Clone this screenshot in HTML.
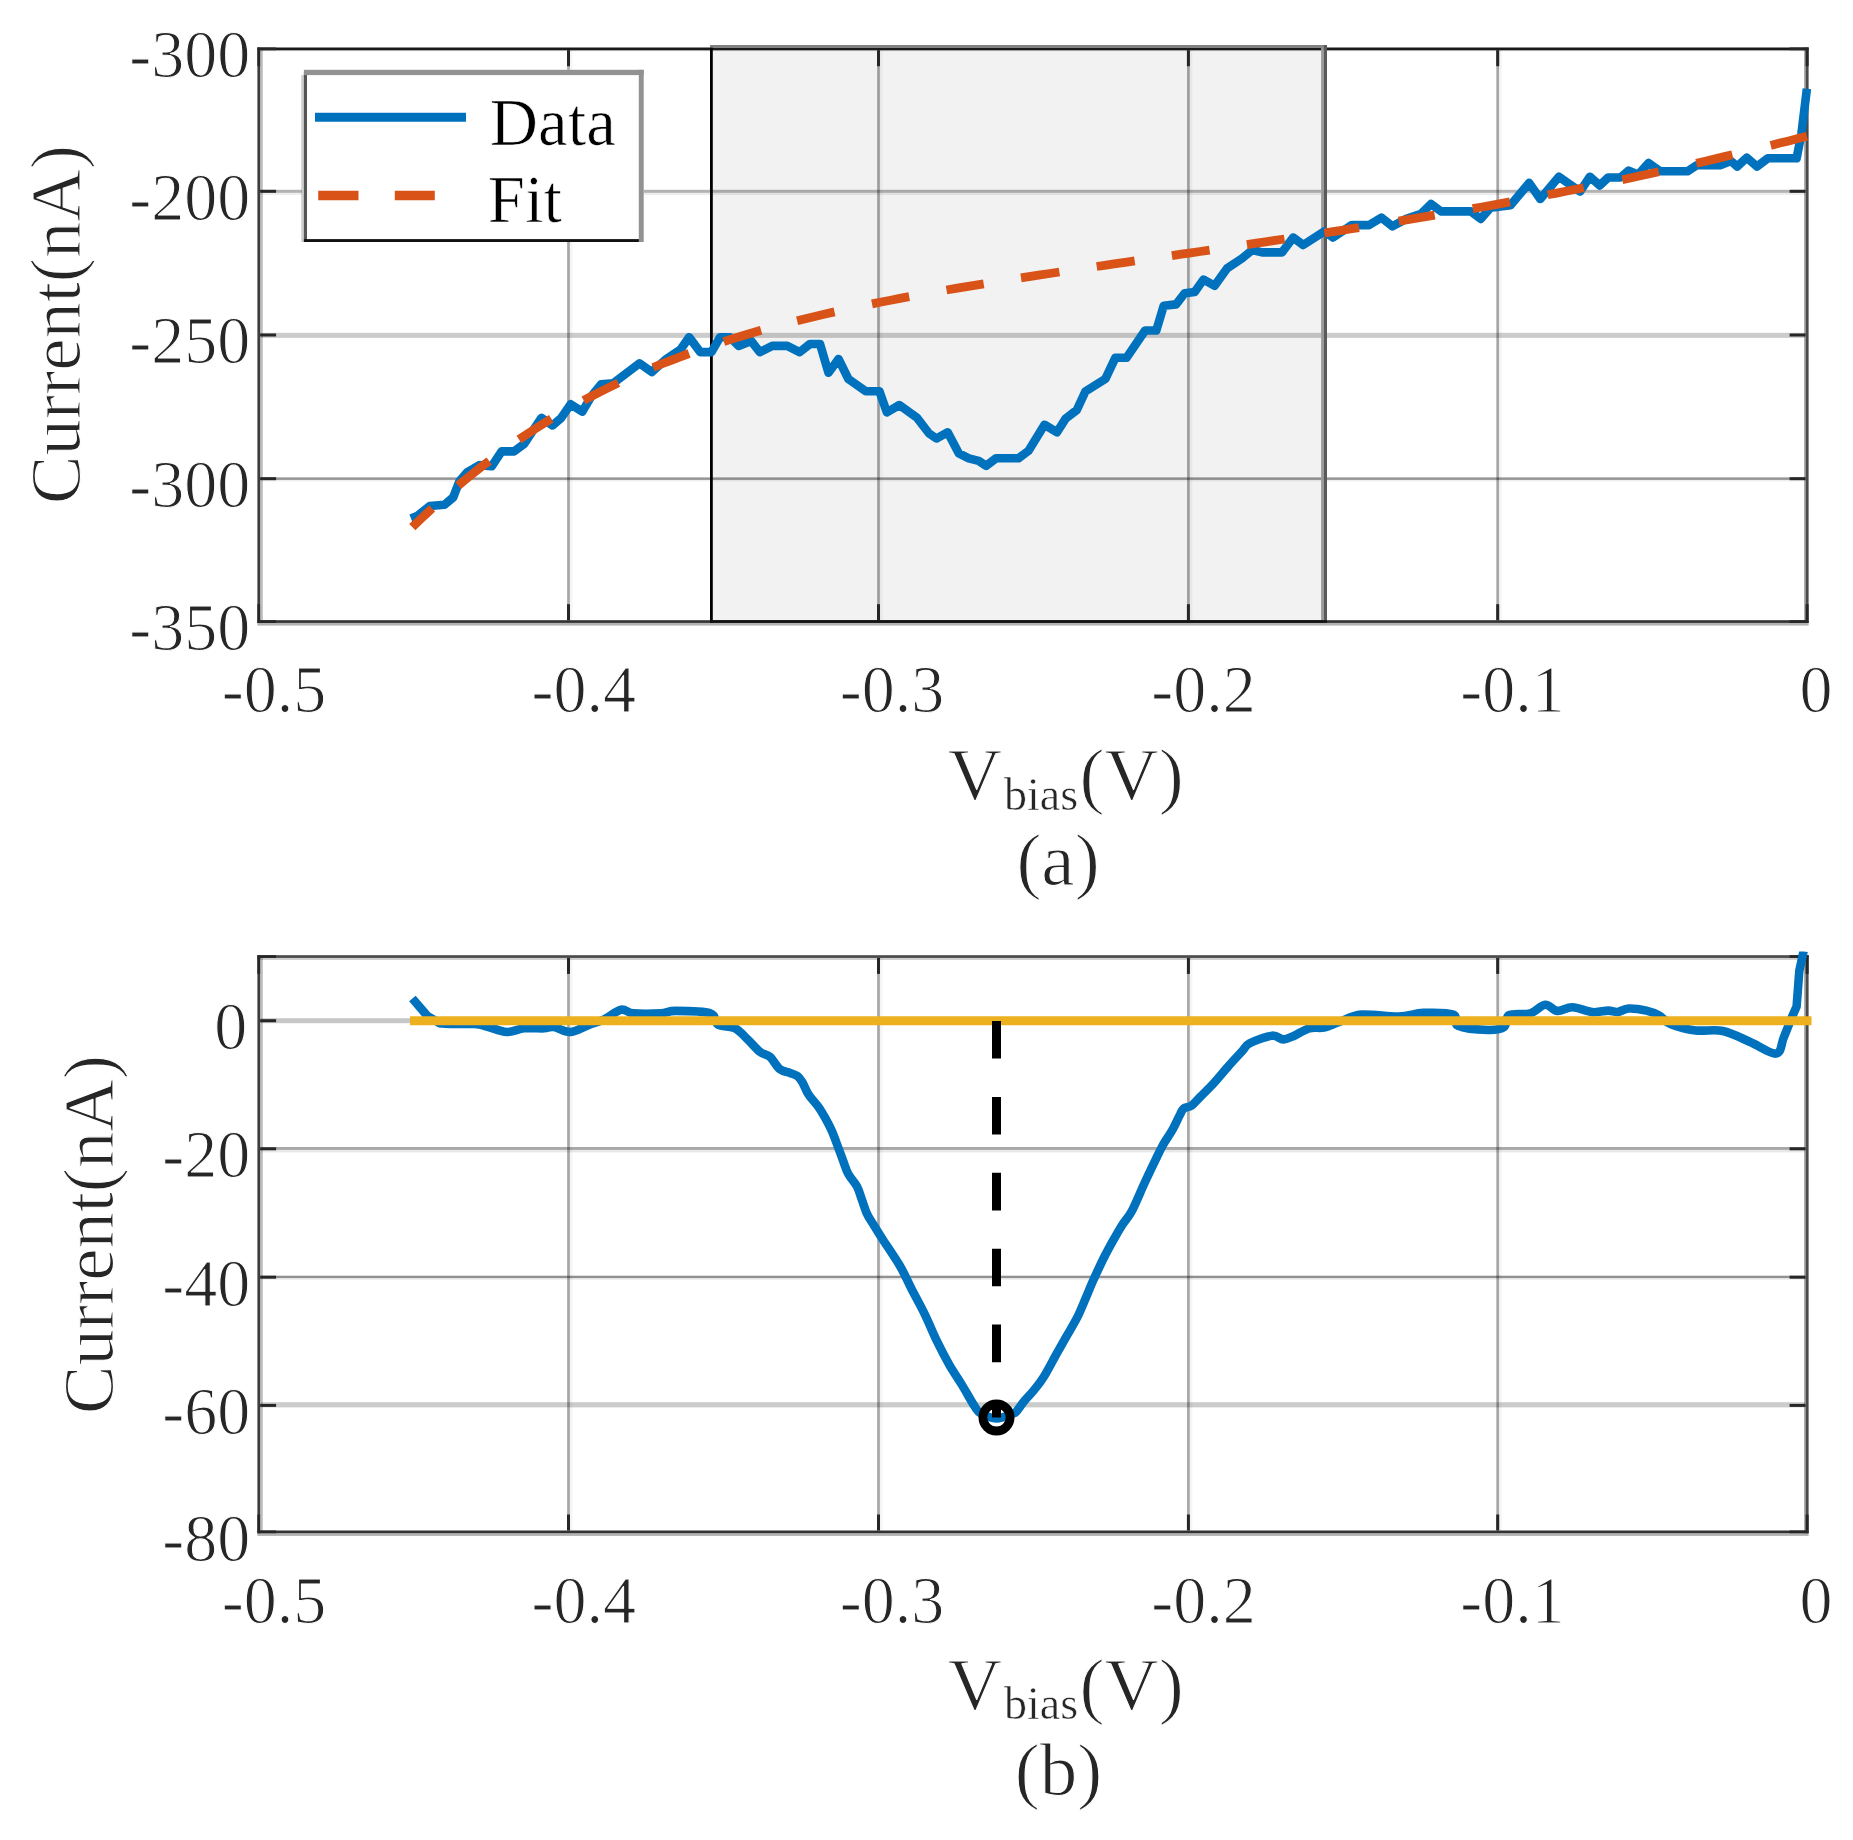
<!DOCTYPE html>
<html lang="en"><head><meta charset="utf-8"><title>Figure</title>
<style>html,body{margin:0;padding:0;background:#fff;overflow:hidden;}svg{display:block;filter:blur(0.6px);}</style>
</head><body>
<svg width="1853" height="1840" viewBox="0 0 1853 1840" font-family="'Liberation Serif', 'Times New Roman', serif" shape-rendering="geometricPrecision">
<rect width="1853" height="1840" fill="#fff"/>
<rect x="712.80" y="47.60" width="611.20" height="573.40" fill="#f2f2f2"/>
<rect x="567.15" y="50.00" width="2.70" height="570.50" fill="#000" fill-opacity="0.35"/>
<rect x="569.85" y="50.00" width="2.65" height="570.50" fill="#000" fill-opacity="0.04"/>
<rect x="877.15" y="50.00" width="2.70" height="570.50" fill="#000" fill-opacity="0.35"/>
<rect x="879.85" y="50.00" width="2.65" height="570.50" fill="#000" fill-opacity="0.04"/>
<rect x="1187.05" y="50.00" width="2.70" height="570.50" fill="#000" fill-opacity="0.35"/>
<rect x="1189.75" y="50.00" width="2.65" height="570.50" fill="#000" fill-opacity="0.04"/>
<rect x="1496.35" y="50.00" width="2.70" height="570.50" fill="#000" fill-opacity="0.35"/>
<rect x="1499.05" y="50.00" width="2.65" height="570.50" fill="#000" fill-opacity="0.04"/>
<rect x="261.00" y="189.80" width="1544.00" height="3.00" fill="#000" fill-opacity="0.3"/>
<rect x="261.00" y="192.80" width="1544.00" height="2.20" fill="#000" fill-opacity="0.07"/>
<rect x="261.00" y="332.80" width="1544.00" height="5.10" fill="#000" fill-opacity="0.2"/>
<rect x="261.00" y="477.40" width="1544.00" height="2.50" fill="#000" fill-opacity="0.42"/>
<rect x="261.00" y="480.00" width="1544.00" height="1.50" fill="#000" fill-opacity="0.06"/>
<rect x="257.40" y="47.50" width="1551.20" height="2.70" fill="#1a1a1a"/>
<rect x="257.40" y="50.20" width="1551.20" height="2.00" fill="#000" fill-opacity="0.0"/>
<rect x="257.40" y="620.20" width="1551.20" height="2.70" fill="#333"/>
<rect x="257.40" y="622.90" width="1551.20" height="2.70" fill="#000" fill-opacity="0.3"/>
<rect x="257.40" y="47.50" width="2.70" height="575.40" fill="#3d3d3d"/>
<rect x="260.10" y="50.20" width="2.70" height="570.00" fill="#000" fill-opacity="0.26"/>
<rect x="1804.10" y="47.50" width="1.50" height="575.40" fill="#000" fill-opacity="0.35"/>
<rect x="1805.60" y="47.50" width="3.00" height="575.40" fill="#4a4a4a"/>
<rect x="260.10" y="50.10" width="1545.50" height="1.00" fill="#000" fill-opacity="0.22"/>
<rect x="567.00" y="50.20" width="3.00" height="16.00" fill="#262626"/>
<rect x="567.00" y="604.20" width="3.00" height="16.00" fill="#262626"/>
<rect x="877.00" y="50.20" width="3.00" height="16.00" fill="#262626"/>
<rect x="877.00" y="604.20" width="3.00" height="16.00" fill="#262626"/>
<rect x="1186.90" y="50.20" width="3.00" height="16.00" fill="#262626"/>
<rect x="1186.90" y="604.20" width="3.00" height="16.00" fill="#262626"/>
<rect x="1496.20" y="50.20" width="3.00" height="16.00" fill="#262626"/>
<rect x="1496.20" y="604.20" width="3.00" height="16.00" fill="#262626"/>
<rect x="260.10" y="189.80" width="16.00" height="3.00" fill="#262626"/>
<rect x="1789.60" y="189.80" width="16.00" height="3.00" fill="#262626"/>
<rect x="260.10" y="333.50" width="16.00" height="3.00" fill="#262626"/>
<rect x="1789.60" y="333.50" width="16.00" height="3.00" fill="#262626"/>
<rect x="260.10" y="477.20" width="16.00" height="3.00" fill="#262626"/>
<rect x="1789.60" y="477.20" width="16.00" height="3.00" fill="#262626"/>
<rect x="257.40" y="50.20" width="2.70" height="16.00" fill="#262626"/>
<rect x="1805.60" y="50.20" width="3.00" height="16.00" fill="#262626"/>
<rect x="257.40" y="604.20" width="2.70" height="16.00" fill="#262626"/>
<rect x="1805.60" y="604.20" width="3.00" height="16.00" fill="#262626"/>
<rect x="257.40" y="620.20" width="18.70" height="2.70" fill="#262626"/>
<rect x="257.40" y="47.50" width="18.70" height="2.70" fill="#262626"/>
<rect x="1789.60" y="620.20" width="19.00" height="2.70" fill="#262626"/>
<rect x="1789.60" y="47.50" width="19.00" height="2.70" fill="#262626"/>
<rect x="710.00" y="45.00" width="617.00" height="2.60" fill="#808080"/>
<rect x="710.00" y="47.60" width="2.80" height="575.20" fill="#000"/>
<rect x="1321.10" y="47.60" width="2.80" height="572.60" fill="#999"/>
<rect x="1323.90" y="45.00" width="3.10" height="577.80" fill="#5a5a5a"/>
<rect x="710.00" y="620.20" width="617.00" height="2.60" fill="#111"/>
<polyline points="411.0,518.5 417.2,516.0 429.7,506.0 444.5,504.8 453.2,497.4 459.4,481.2 466.9,472.5 479.3,465.1 491.7,466.3 501.6,451.4 514.1,451.4 524.0,444.0 541.4,417.9 552.5,425.4 561.2,417.9 570.7,404.3 582.3,411.7 591.0,396.8 601.0,384.4 613.4,383.2 639.4,363.3 651.8,372.0 665.5,359.6 680.4,349.7 689.1,337.2 700.3,352.1 711.4,352.1 720.1,337.2 730.0,337.2 738.7,345.9 751.2,341.0 759.8,352.1 772.3,345.9 787.2,345.9 799.6,352.1 810.0,344.0 820.0,344.0 828.5,372.7 838.5,359.0 848.4,379.0 865.8,391.3 879.4,391.3 886.9,412.4 899.3,405.0 916.7,417.4 929.1,433.5 936.5,438.5 947.7,432.3 958.9,453.4 968.8,458.3 978.7,460.8 986.2,465.8 996.1,458.3 1018.5,458.3 1028.4,450.9 1044.5,424.8 1057.0,432.3 1065.6,418.6 1076.8,410.0 1085.5,391.3 1105.4,378.9 1115.3,357.8 1126.5,357.8 1145.1,330.5 1156.3,330.5 1163.7,305.7 1176.1,304.4 1184.8,293.2 1194.7,292.0 1203.4,279.6 1214.6,285.8 1227.0,268.4 1241.9,258.5 1252.3,250.0 1262.2,252.4 1282.0,252.4 1293.2,237.5 1303.2,245.0 1324.3,231.3 1333.0,237.5 1351.6,225.1 1369.0,225.1 1381.4,217.6 1392.5,226.3 1406.2,218.9 1421.1,213.9 1431.0,204.0 1441.0,211.4 1470.7,211.4 1480.7,218.9 1490.6,207.7 1510.5,205.2 1529.1,182.9 1540.3,199.0 1558.9,176.7 1580.0,191.6 1589.9,176.7 1599.8,185.4 1608.2,177.5 1620.5,177.5 1628.7,170.6 1638.2,174.7 1648.5,163.1 1660.1,171.3 1687.4,171.3 1696.9,165.2 1720.2,165.2 1731.1,161.1 1737.2,166.5 1746.8,157.7 1757.0,166.5 1767.9,158.3 1796.6,158.3 1801.4,133.8 1806.9,88.7" fill="none" stroke="#0072BD" stroke-width="8.6" stroke-linejoin="round" stroke-linecap="butt"/>
<path d="M412.3,527.1 L417.2,522.3 L422.2,517.6 L427.2,513.0 L432.1,508.4 M458.2,485.5 L465.9,479.1 L473.7,472.9 L481.4,466.8 L489.2,460.9 M519.0,439.5 L527.1,434.1 L535.1,428.9 L543.2,423.8 L551.3,418.8 M583.6,400.4 L592.3,395.8 L601.0,391.4 L609.6,387.1 L618.3,382.9 M653.1,367.5 L662.1,363.8 L671.1,360.3 L680.1,356.8 L689.1,353.5 M723.8,341.6 L733.1,338.6 L742.5,335.8 L751.8,333.0 L761.1,330.3 M797.1,320.7 L806.5,318.4 L815.8,316.2 L825.1,314.0 L834.5,311.9 M872.0,303.9 L881.3,302.0 L890.6,300.2 L899.9,298.4 L909.2,296.7 M946.5,290.0 L955.8,288.4 L965.1,286.8 L974.4,285.3 L983.7,283.8 M1021.0,277.9 L1030.6,276.4 L1040.2,274.9 L1049.8,273.5 L1059.4,272.0 M1096.7,266.5 L1106.2,265.1 L1115.7,263.7 L1125.2,262.3 L1134.7,260.9 M1171.9,255.6 L1181.3,254.2 L1190.8,252.8 L1200.2,251.5 L1209.6,250.1 M1246.9,244.6 L1256.3,243.2 L1265.7,241.8 L1275.1,240.4 L1284.5,239.0 M1324.3,233.0 L1333.0,231.6 L1341.7,230.3 L1350.3,228.9 L1359.0,227.6 M1398.7,221.2 L1407.7,219.7 L1416.7,218.2 L1425.7,216.7 L1434.7,215.2 M1472.7,208.6 L1482.0,207.0 L1491.3,205.3 L1500.7,203.6 L1510.0,201.9 M1547.7,194.8 L1556.7,193.1 L1565.7,191.3 L1574.7,189.5 L1583.7,187.7 M1622.3,179.7 L1631.4,177.8 L1640.5,175.8 L1649.7,173.8 L1658.8,171.8 M1696.3,163.3 L1705.3,161.2 L1714.3,159.1 L1723.4,156.9 L1732.4,154.7 M1770.7,145.4 L1779.8,143.1 L1788.8,140.9 L1797.9,138.6 L1806.9,136.3" fill="none" stroke="#D95319" stroke-width="8.8" stroke-linecap="butt"/>
<rect x="302.00" y="69.80" width="341.70" height="172.20" fill="#fff"/>
<rect x="301.30" y="75.00" width="2.60" height="167.00" fill="#000" fill-opacity="0.2"/>
<rect x="303.90" y="72.00" width="3.10" height="170.00" fill="#555"/>
<rect x="303.90" y="239.10" width="337.10" height="2.90" fill="#111"/>
<rect x="303.90" y="69.80" width="339.80" height="5.30" fill="#929292"/>
<rect x="638.80" y="69.80" width="4.90" height="172.20" fill="#929292"/>
<line x1="315" y1="117.3" x2="466" y2="117.3" stroke="#0072BD" stroke-width="9"/>
<line x1="318.2" y1="195.4" x2="358.5" y2="195.4" stroke="#D95319" stroke-width="9.5"/>
<line x1="394.8" y1="195.4" x2="434.8" y2="195.4" stroke="#D95319" stroke-width="9.5"/>
<text transform="translate(489.8,145.3) scale(0.975,1)" font-size="68.5" fill="#000" stroke="#fff" stroke-width="0.7">Data</text>
<text transform="translate(487.8,222.2) scale(0.975,1)" font-size="68.5" fill="#000" stroke="#fff" stroke-width="0.7">Fit</text>
<text transform="translate(250.3,76.8) scale(0.9635,1)" font-size="68.5" fill="#262626" stroke="#fff" stroke-width="1.1" stroke-linejoin="round" text-anchor="end">-300</text>
<text transform="translate(250.3,219.6) scale(0.9635,1)" font-size="68.5" fill="#262626" stroke="#fff" stroke-width="1.1" stroke-linejoin="round" text-anchor="end">-200</text>
<text transform="translate(250.3,363.3) scale(0.9635,1)" font-size="68.5" fill="#262626" stroke="#fff" stroke-width="1.1" stroke-linejoin="round" text-anchor="end">-250</text>
<text transform="translate(250.3,507.0) scale(0.9635,1)" font-size="68.5" fill="#262626" stroke="#fff" stroke-width="1.1" stroke-linejoin="round" text-anchor="end">-300</text>
<text transform="translate(250.3,650.3) scale(0.9635,1)" font-size="68.5" fill="#262626" stroke="#fff" stroke-width="1.1" stroke-linejoin="round" text-anchor="end">-350</text>
<text transform="translate(221.8,712.0) scale(0.9635,1)" font-size="68.5" fill="#262626" stroke="#fff" stroke-width="1.1" stroke-linejoin="round">-0.5</text>
<text transform="translate(531.5,712.0) scale(0.9635,1)" font-size="68.5" fill="#262626" stroke="#fff" stroke-width="1.1" stroke-linejoin="round">-0.4</text>
<text transform="translate(839.8,712.0) scale(0.9635,1)" font-size="68.5" fill="#262626" stroke="#fff" stroke-width="1.1" stroke-linejoin="round">-0.3</text>
<text transform="translate(1151.3,712.0) scale(0.9635,1)" font-size="68.5" fill="#262626" stroke="#fff" stroke-width="1.1" stroke-linejoin="round">-0.2</text>
<text transform="translate(1460.3,712.0) scale(0.9635,1)" font-size="68.5" fill="#262626" stroke="#fff" stroke-width="1.1" stroke-linejoin="round">-0.1</text>
<text transform="translate(1799.6,712.0) scale(0.9635,1)" font-size="68.5" fill="#262626" stroke="#fff" stroke-width="1.1" stroke-linejoin="round">0</text>
<text x="947.8" y="800.0" font-size="75" fill="#262626" stroke="#fff" stroke-width="1.1" stroke-linejoin="round">V<tspan font-size="46" dy="9.5" dx="2" stroke-width="0.5">bias</tspan><tspan font-size="75" dy="-9.5" dx="1.5" stroke-width="1.1">(V)</tspan></text>
<text x="1058" y="884.5" font-size="75" fill="#262626" stroke="#fff" stroke-width="1.1" stroke-linejoin="round" text-anchor="middle">(a)</text>
<text transform="translate(79.5,324.5) rotate(-90)" font-size="72.6" fill="#262626" stroke="#fff" stroke-width="1.1" stroke-linejoin="round" text-anchor="middle">Current(nA)</text>
<rect x="567.15" y="957.90" width="2.70" height="572.60" fill="#000" fill-opacity="0.35"/>
<rect x="569.85" y="957.90" width="2.65" height="572.60" fill="#000" fill-opacity="0.04"/>
<rect x="877.15" y="957.90" width="2.70" height="572.60" fill="#000" fill-opacity="0.35"/>
<rect x="879.85" y="957.90" width="2.65" height="572.60" fill="#000" fill-opacity="0.04"/>
<rect x="1187.05" y="957.90" width="2.70" height="572.60" fill="#000" fill-opacity="0.35"/>
<rect x="1189.75" y="957.90" width="2.65" height="572.60" fill="#000" fill-opacity="0.04"/>
<rect x="1496.35" y="957.90" width="2.70" height="572.60" fill="#000" fill-opacity="0.35"/>
<rect x="1499.05" y="957.90" width="2.65" height="572.60" fill="#000" fill-opacity="0.04"/>
<rect x="261.00" y="1018.20" width="1544.00" height="5.00" fill="#000" fill-opacity="0.22"/>
<rect x="261.00" y="1147.00" width="1544.00" height="2.90" fill="#000" fill-opacity="0.34"/>
<rect x="261.00" y="1149.90" width="1544.00" height="2.50" fill="#000" fill-opacity="0.09"/>
<rect x="261.00" y="1275.70" width="1544.00" height="2.50" fill="#000" fill-opacity="0.43"/>
<rect x="261.00" y="1278.60" width="1544.00" height="1.40" fill="#000" fill-opacity="0.06"/>
<rect x="261.00" y="1402.20" width="1544.00" height="5.20" fill="#000" fill-opacity="0.2"/>
<rect x="257.40" y="955.20" width="1551.20" height="2.70" fill="#4a4a4a"/>
<rect x="257.40" y="957.90" width="1551.20" height="2.00" fill="#000" fill-opacity="0.2"/>
<rect x="257.40" y="1530.50" width="1551.20" height="2.70" fill="#333"/>
<rect x="257.40" y="1533.20" width="1551.20" height="2.70" fill="#000" fill-opacity="0.3"/>
<rect x="257.40" y="955.20" width="2.70" height="578.00" fill="#3d3d3d"/>
<rect x="260.10" y="957.90" width="2.70" height="572.60" fill="#000" fill-opacity="0.26"/>
<rect x="1804.10" y="955.20" width="1.50" height="578.00" fill="#000" fill-opacity="0.35"/>
<rect x="1805.60" y="955.20" width="3.00" height="578.00" fill="#4a4a4a"/>
<rect x="567.00" y="957.90" width="3.00" height="16.00" fill="#262626"/>
<rect x="567.00" y="1514.50" width="3.00" height="16.00" fill="#262626"/>
<rect x="877.00" y="957.90" width="3.00" height="16.00" fill="#262626"/>
<rect x="877.00" y="1514.50" width="3.00" height="16.00" fill="#262626"/>
<rect x="1186.90" y="957.90" width="3.00" height="16.00" fill="#262626"/>
<rect x="1186.90" y="1514.50" width="3.00" height="16.00" fill="#262626"/>
<rect x="1496.20" y="957.90" width="3.00" height="16.00" fill="#262626"/>
<rect x="1496.20" y="1514.50" width="3.00" height="16.00" fill="#262626"/>
<rect x="260.10" y="1019.20" width="16.00" height="3.00" fill="#262626"/>
<rect x="1789.60" y="1019.20" width="16.00" height="3.00" fill="#262626"/>
<rect x="260.10" y="1147.30" width="16.00" height="3.00" fill="#262626"/>
<rect x="1789.60" y="1147.30" width="16.00" height="3.00" fill="#262626"/>
<rect x="260.10" y="1275.70" width="16.00" height="3.00" fill="#262626"/>
<rect x="1789.60" y="1275.70" width="16.00" height="3.00" fill="#262626"/>
<rect x="260.10" y="1403.90" width="16.00" height="3.00" fill="#262626"/>
<rect x="1789.60" y="1403.90" width="16.00" height="3.00" fill="#262626"/>
<rect x="257.40" y="957.90" width="2.70" height="16.00" fill="#262626"/>
<rect x="1805.60" y="957.90" width="3.00" height="16.00" fill="#262626"/>
<rect x="257.40" y="1514.50" width="2.70" height="16.00" fill="#262626"/>
<rect x="1805.60" y="1514.50" width="3.00" height="16.00" fill="#262626"/>
<rect x="257.40" y="1530.50" width="18.70" height="2.70" fill="#262626"/>
<rect x="257.40" y="955.20" width="18.70" height="2.70" fill="#262626"/>
<rect x="1789.60" y="1530.50" width="19.00" height="2.70" fill="#262626"/>
<rect x="1789.60" y="955.20" width="19.00" height="2.70" fill="#262626"/>
<clipPath id="cb"><rect x="250" y="951.5" width="1565" height="600"/></clipPath>
<path clip-path="url(#cb)" d="M412.4,998.5 L427.3,1015.9 L439.7,1023.3 C447.6,1024.6 466.6,1023.5 474.5,1024.0 C482.4,1024.5 481.5,1025.2 486.9,1026.5 C492.3,1027.8 500.6,1031.7 506.8,1032.0 C513.0,1032.3 517.9,1028.9 524.1,1028.3 C530.3,1027.7 539.0,1028.5 544.0,1028.3 C549.0,1028.1 549.6,1026.4 553.9,1027.0 C558.2,1027.6 564.2,1032.3 570.0,1032.0 C575.8,1031.7 583.1,1027.1 588.7,1025.0 C594.3,1022.9 598.2,1022.1 603.6,1019.6 C609.0,1017.1 616.0,1010.7 621.0,1009.7 C626.0,1008.7 626.8,1012.8 633.4,1013.4 C640.0,1014.0 653.7,1013.8 660.7,1013.4 C667.7,1013.0 667.3,1010.9 675.6,1010.9 C683.9,1010.9 703.3,1011.1 710.3,1013.4 C717.3,1015.7 713.6,1022.0 717.8,1024.5 C721.9,1027.0 730.2,1025.8 735.2,1028.3 C740.2,1030.8 743.5,1035.5 747.6,1039.4 C751.7,1043.3 756.3,1049.0 760.0,1051.9 C763.7,1054.8 766.6,1053.9 769.9,1056.8 C773.2,1059.7 776.4,1066.5 779.8,1069.2 C783.1,1071.9 787.1,1071.8 790.0,1072.9 C792.9,1074.0 795.3,1074.5 797.4,1076.0 C799.5,1077.5 800.5,1079.1 802.4,1082.2 C804.3,1085.3 805.9,1090.5 808.6,1094.6 C811.3,1098.7 815.6,1102.9 818.5,1107.0 C821.4,1111.1 823.7,1115.3 826.0,1119.4 C828.3,1123.5 830.1,1127.0 832.2,1131.8 C834.3,1136.6 836.5,1143.0 838.4,1148.0 C840.3,1153.0 841.8,1157.3 843.4,1161.6 C845.0,1165.9 846.0,1169.8 848.3,1174.0 C850.6,1178.2 854.7,1182.2 857.0,1186.5 C859.3,1190.8 860.3,1195.5 862.0,1200.1 C863.7,1204.6 864.9,1209.4 867.0,1213.8 C869.1,1218.2 871.7,1221.8 874.4,1226.2 C877.1,1230.6 878.8,1233.4 883.1,1240.0 C887.4,1246.6 895.3,1258.0 900.0,1266.0 C904.7,1274.0 907.1,1280.2 911.2,1288.3 C915.3,1296.4 920.5,1305.5 924.8,1314.4 C929.1,1323.3 933.1,1333.2 937.2,1341.7 C941.3,1350.2 945.5,1358.1 949.6,1365.3 C953.8,1372.5 958.0,1378.3 962.1,1385.1 C966.2,1391.9 971.4,1401.5 974.5,1406.2 C977.6,1410.9 977.3,1411.5 981.0,1413.5 C984.7,1415.5 991.3,1418.4 996.5,1418.5 C1001.7,1418.6 1008.6,1415.2 1012.0,1414.0 C1015.4,1412.8 1014.7,1413.3 1016.7,1411.2 C1018.7,1409.1 1021.2,1404.8 1024.1,1401.3 C1027.0,1397.8 1030.7,1394.2 1034.0,1390.1 C1037.3,1386.0 1040.3,1382.5 1044.0,1376.5 C1047.7,1370.5 1052.7,1360.7 1056.4,1354.1 C1060.1,1347.5 1062.8,1342.9 1066.3,1336.7 C1069.8,1330.5 1074.2,1323.5 1077.5,1316.9 C1080.8,1310.3 1083.5,1303.2 1086.2,1297.0 C1088.9,1290.8 1090.7,1286.0 1093.6,1279.6 C1096.5,1273.2 1100.2,1265.1 1103.5,1258.5 C1106.8,1251.9 1110.4,1245.5 1113.5,1239.9 C1116.6,1234.3 1119.2,1229.8 1122.2,1225.0 C1125.2,1220.2 1128.1,1218.1 1131.7,1211.3 C1135.3,1204.5 1140.2,1192.5 1144.1,1184.0 C1148.0,1175.5 1152.2,1166.8 1155.3,1160.4 C1158.4,1154.0 1159.8,1150.7 1162.7,1145.5 C1165.6,1140.3 1169.8,1134.6 1172.7,1129.4 C1175.6,1124.2 1178.2,1118.0 1180.1,1114.5 C1181.9,1111.0 1181.9,1109.8 1183.8,1108.3 C1185.7,1106.8 1188.6,1107.7 1191.3,1105.8 C1194.0,1103.9 1196.3,1100.8 1200.0,1097.1 C1203.7,1093.4 1208.8,1088.6 1213.6,1083.4 C1218.3,1078.2 1223.7,1071.5 1228.5,1066.1 C1233.3,1060.7 1238.7,1055.0 1242.2,1051.2 C1245.7,1047.4 1244.7,1045.8 1249.7,1043.2 C1254.7,1040.6 1266.4,1036.3 1272.0,1035.7 C1277.6,1035.1 1279.5,1039.4 1283.2,1039.4 C1286.9,1039.4 1290.0,1037.6 1294.3,1035.7 C1298.6,1033.8 1304.2,1029.7 1309.2,1028.3 C1314.2,1026.9 1319.1,1028.5 1324.1,1027.5 C1329.1,1026.5 1332.8,1024.2 1339.0,1022.0 C1345.2,1019.9 1351.5,1015.5 1361.4,1014.6 C1371.3,1013.7 1388.3,1016.9 1398.6,1016.6 C1408.9,1016.3 1414.3,1013.2 1423.4,1012.9 C1432.5,1012.6 1447.4,1012.5 1453.2,1014.6 C1459.0,1016.8 1452.4,1023.2 1458.2,1025.8 C1464.0,1028.4 1480.3,1029.8 1488.0,1030.0 C1495.7,1030.2 1500.6,1029.5 1504.1,1027.0 C1507.6,1024.5 1504.8,1017.4 1509.1,1015.1 C1513.4,1012.8 1524.2,1015.1 1530.2,1013.4 C1536.2,1011.7 1540.5,1005.1 1545.1,1004.7 C1549.6,1004.3 1553.0,1010.5 1557.5,1010.9 C1562.0,1011.3 1566.6,1007.0 1572.4,1007.2 C1578.2,1007.4 1586.3,1011.5 1592.3,1012.1 C1598.3,1012.7 1604.0,1010.6 1608.2,1010.6 C1612.4,1010.6 1614.3,1012.4 1617.7,1012.0 C1621.1,1011.6 1623.9,1008.7 1628.7,1008.5 C1633.5,1008.3 1641.4,1009.5 1646.4,1010.6 C1651.4,1011.7 1654.6,1013.0 1658.7,1015.3 C1662.8,1017.6 1664.8,1021.7 1671.0,1024.2 C1677.2,1026.7 1686.9,1029.3 1695.6,1030.4 C1704.2,1031.5 1713.8,1029.1 1722.9,1031.0 C1732.0,1032.9 1741.3,1038.2 1750.2,1042.0 C1759.1,1045.8 1770.5,1054.3 1776.1,1053.6 C1781.7,1052.9 1781.1,1043.7 1783.6,1037.9 L1791.2,1018.8 L1796.6,1006.5 L1799.3,971.0 L1803.6,951.0" fill="none" stroke="#0072BD" stroke-width="8.6" stroke-linejoin="round" stroke-linecap="butt"/>
<line x1="410" y1="1020.7" x2="1811.5" y2="1020.7" stroke="#EDB120" stroke-width="9.0"/>
<path d="M996.5,1021.0 V1058.6 M996.5,1096.9 V1134.5 M996.5,1172.8 V1210.4 M996.5,1248.7 V1286.3 M996.5,1324.6 V1362.2 M996.5,1400.5 V1417.4" stroke="#000" stroke-width="9" fill="none"/>
<circle cx="996.5" cy="1417.4" r="13.6" fill="none" stroke="#000" stroke-width="8.8"/>
<text transform="translate(247.3,1049.0) scale(0.9635,1)" font-size="68.5" fill="#262626" stroke="#fff" stroke-width="1.1" stroke-linejoin="round" text-anchor="end">0</text>
<text transform="translate(250.3,1177.1) scale(0.9635,1)" font-size="68.5" fill="#262626" stroke="#fff" stroke-width="1.1" stroke-linejoin="round" text-anchor="end">-20</text>
<text transform="translate(250.3,1305.5) scale(0.9635,1)" font-size="68.5" fill="#262626" stroke="#fff" stroke-width="1.1" stroke-linejoin="round" text-anchor="end">-40</text>
<text transform="translate(250.3,1433.7) scale(0.9635,1)" font-size="68.5" fill="#262626" stroke="#fff" stroke-width="1.1" stroke-linejoin="round" text-anchor="end">-60</text>
<text transform="translate(250.3,1561.3) scale(0.9635,1)" font-size="68.5" fill="#262626" stroke="#fff" stroke-width="1.1" stroke-linejoin="round" text-anchor="end">-80</text>
<text transform="translate(221.8,1622.5) scale(0.9635,1)" font-size="68.5" fill="#262626" stroke="#fff" stroke-width="1.1" stroke-linejoin="round">-0.5</text>
<text transform="translate(531.5,1622.5) scale(0.9635,1)" font-size="68.5" fill="#262626" stroke="#fff" stroke-width="1.1" stroke-linejoin="round">-0.4</text>
<text transform="translate(839.8,1622.5) scale(0.9635,1)" font-size="68.5" fill="#262626" stroke="#fff" stroke-width="1.1" stroke-linejoin="round">-0.3</text>
<text transform="translate(1151.3,1622.5) scale(0.9635,1)" font-size="68.5" fill="#262626" stroke="#fff" stroke-width="1.1" stroke-linejoin="round">-0.2</text>
<text transform="translate(1460.3,1622.5) scale(0.9635,1)" font-size="68.5" fill="#262626" stroke="#fff" stroke-width="1.1" stroke-linejoin="round">-0.1</text>
<text transform="translate(1799.6,1622.5) scale(0.9635,1)" font-size="68.5" fill="#262626" stroke="#fff" stroke-width="1.1" stroke-linejoin="round">0</text>
<text x="947.8" y="1709.5" font-size="75" fill="#262626" stroke="#fff" stroke-width="1.1" stroke-linejoin="round">V<tspan font-size="46" dy="9.5" dx="2" stroke-width="0.5">bias</tspan><tspan font-size="75" dy="-9.5" dx="1.5" stroke-width="1.1">(V)</tspan></text>
<text x="1058.5" y="1794.5" font-size="75" fill="#262626" stroke="#fff" stroke-width="1.1" stroke-linejoin="round" text-anchor="middle">(b)</text>
<text transform="translate(112.8,1234.5) rotate(-90)" font-size="72.6" fill="#262626" stroke="#fff" stroke-width="1.1" stroke-linejoin="round" text-anchor="middle">Current(nA)</text>
</svg>
</body></html>
